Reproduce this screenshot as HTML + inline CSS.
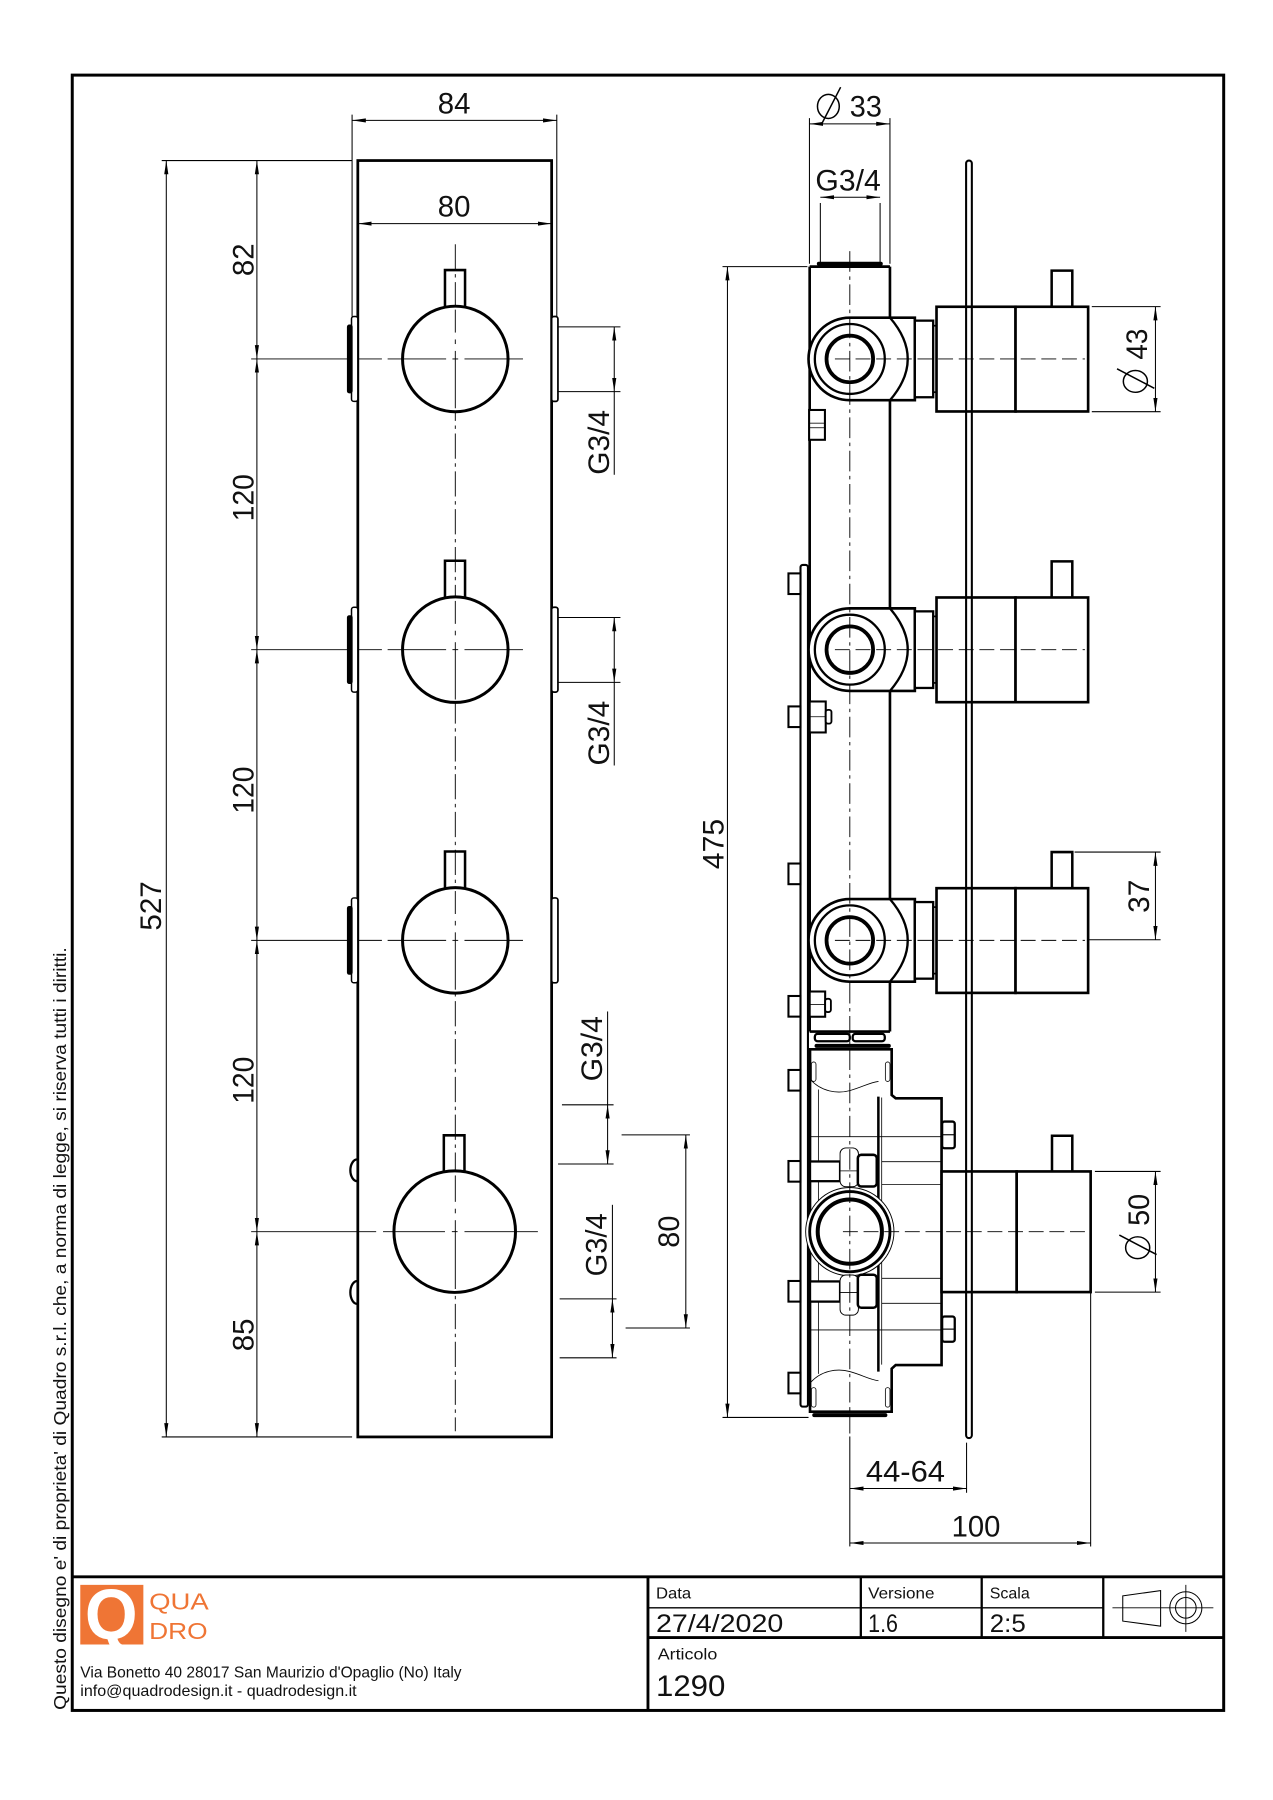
<!DOCTYPE html>
<html><head><meta charset="utf-8"><style>
html,body{margin:0;padding:0;background:#fff;}
svg{display:block;}
text{font-family:"Liberation Sans",Arial,sans-serif;fill:#111;}
</style></head><body>
<svg width="1273" height="1800" viewBox="0 0 1110 1569.6" preserveAspectRatio="none" xmlns="http://www.w3.org/2000/svg">
<defs>
<marker id="a" viewBox="0 0 12 4" refX="12" refY="2" markerWidth="12" markerHeight="4" orient="auto-start-reverse" markerUnits="userSpaceOnUse"><path d="M0,0.2 L12,2 L0,3.8z" fill="#000"/></marker>
</defs>
<rect width="1110" height="1569.6" fill="#fff"/>

<!-- frame & title block -->
<g stroke="#000" fill="none">
<rect x="63" y="65.5" width="1004" height="1426" stroke-width="2.6"/>
<line x1="63" y1="1375" x2="1067" y2="1375" stroke-width="2.5"/>
<line x1="565" y1="1375" x2="565" y2="1491" stroke-width="2.5"/>
<line x1="565" y1="1428" x2="1067" y2="1428" stroke-width="2.5"/>
<line x1="750.6" y1="1375" x2="750.6" y2="1428" stroke-width="2"/>
<line x1="856" y1="1375" x2="856" y2="1428" stroke-width="2"/>
<line x1="962" y1="1375" x2="962" y2="1428" stroke-width="2"/>
<line x1="565" y1="1402" x2="962" y2="1402" stroke-width="1.2"/>
<!-- projection symbol -->
<path d="M979,1391.6 L1012,1387 L1012,1418 L979,1413.6 Z" stroke-width="0.9"/>
<circle cx="1034" cy="1402" r="14" stroke-width="0.9"/>
<circle cx="1034" cy="1402" r="9" stroke-width="0.9"/>
<line x1="970" y1="1402" x2="1058" y2="1402" stroke-width="0.8"/>
<line x1="1034" y1="1382" x2="1034" y2="1423" stroke-width="0.8"/>
</g>
<text x="572" y="1394" font-size="14" textLength="30.7" lengthAdjust="spacingAndGlyphs">Data</text>
<text x="757" y="1394" font-size="14" textLength="57.8" lengthAdjust="spacingAndGlyphs">Versione</text>
<text x="863" y="1394" font-size="14" textLength="34.9" lengthAdjust="spacingAndGlyphs">Scala</text>
<text x="572" y="1423" font-size="21.5" textLength="111" lengthAdjust="spacingAndGlyphs">27/4/2020</text>
<text x="757" y="1423" font-size="21.5" textLength="26" lengthAdjust="spacingAndGlyphs">1.6</text>
<text x="863" y="1423" font-size="21.5" textLength="31.4" lengthAdjust="spacingAndGlyphs">2:5</text>
<text x="573.5" y="1447" font-size="14" textLength="52" lengthAdjust="spacingAndGlyphs">Articolo</text>
<text x="572" y="1479" font-size="26" textLength="60.5" lengthAdjust="spacingAndGlyphs">1290</text>

<!-- logo -->
<rect x="70" y="1382" width="55" height="52" fill="#EF7535"/>
<text x="97" y="1429" font-size="62" font-weight="bold" text-anchor="middle" textLength="46" lengthAdjust="spacingAndGlyphs" style="fill:#fff">Q</text>
<text x="130" y="1403.6" font-size="20" textLength="52" lengthAdjust="spacingAndGlyphs" style="fill:#EF7535">QUA</text>
<text x="130" y="1429" font-size="20" textLength="51" lengthAdjust="spacingAndGlyphs" style="fill:#EF7535">DRO</text>
<text x="70" y="1463" font-size="13.3" textLength="332.5" lengthAdjust="spacingAndGlyphs">Via Bonetto 40  28017 San Maurizio d'Opaglio (No) Italy</text>
<text x="70" y="1479" font-size="13.3" textLength="241" lengthAdjust="spacingAndGlyphs">info@quadrodesign.it  -  quadrodesign.it</text>

<!-- copyright vertical -->
<text transform="translate(57.5,1491) rotate(-90)" font-size="15.5" textLength="665" lengthAdjust="spacingAndGlyphs">Questo disegno e' di proprieta' di Quadro s.r.l. che, a norma di legge, si riserva tutti i diritti.</text>

<!-- ================= LEFT VIEW ================= -->
<g stroke="#000" fill="none">
<rect x="312" y="140" width="169" height="1113" stroke-width="2.4"/>
<line x1="397" y1="213" x2="397" y2="1248" stroke-width="0.8" stroke-dasharray="22 4 3 4"/>
<path d="M388,268 V235.5 H405.5 V268" stroke-width="2.2"/>
<circle cx="397" cy="313" r="46" stroke-width="2.6" fill="#fff"/>
<path d="M388,521.5 V489 H405.5 V521.5" stroke-width="2.2"/>
<circle cx="397" cy="566.5" r="46" stroke-width="2.6" fill="#fff"/>
<path d="M388,775 V742.5 H405.5 V775" stroke-width="2.2"/>
<circle cx="397" cy="820" r="46" stroke-width="2.6" fill="#fff"/>
<path d="M387,1022 V990 H405 V1022" stroke-width="2.2"/>
<circle cx="396.5" cy="1074" r="53" stroke-width="2.6" fill="#fff"/>
<g stroke-width="0.8">
<line x1="397" y1="270" x2="397" y2="290"/><line x1="397" y1="296" x2="397" y2="300"/><line x1="397" y1="306" x2="397" y2="356"/>
<line x1="397" y1="524" x2="397" y2="544"/><line x1="397" y1="550" x2="397" y2="554"/><line x1="397" y1="560" x2="397" y2="610"/>
<line x1="397" y1="777" x2="397" y2="797"/><line x1="397" y1="803" x2="397" y2="807"/><line x1="397" y1="813" x2="397" y2="863"/>
<line x1="397" y1="1025" x2="397" y2="1048"/><line x1="397" y1="1054" x2="397" y2="1058"/><line x1="397" y1="1064" x2="397" y2="1124"/>
<line x1="219" y1="313" x2="333" y2="313"/><line x1="338" y1="313" x2="389" y2="313"/><line x1="394.5" y1="313" x2="399.5" y2="313"/><line x1="405" y1="313" x2="456" y2="313"/>
<line x1="219" y1="566.5" x2="333" y2="566.5"/><line x1="338" y1="566.5" x2="389" y2="566.5"/><line x1="394.5" y1="566.5" x2="399.5" y2="566.5"/><line x1="405" y1="566.5" x2="456" y2="566.5"/>
<line x1="219" y1="820" x2="333" y2="820"/><line x1="338" y1="820" x2="389" y2="820"/><line x1="394.5" y1="820" x2="399.5" y2="820"/><line x1="405" y1="820" x2="456" y2="820"/>
<line x1="219" y1="1074" x2="328" y2="1074"/><line x1="334" y1="1074" x2="388" y2="1074"/><line x1="394" y1="1074" x2="399" y2="1074"/><line x1="405" y1="1074" x2="469" y2="1074"/>
</g>
<rect x="306.5" y="276" width="5.5" height="74" rx="2" stroke-width="1.3" fill="#fff"/>
<rect x="302.5" y="283" width="5" height="60" rx="2" fill="#000" stroke="none"/>
<rect x="306.5" y="529.5" width="5.5" height="74" rx="2" stroke-width="1.3" fill="#fff"/>
<rect x="302.5" y="536.5" width="5" height="60" rx="2" fill="#000" stroke="none"/>
<rect x="306.5" y="783" width="5.5" height="74" rx="2" stroke-width="1.3" fill="#fff"/>
<rect x="302.5" y="790" width="5" height="60" rx="2" fill="#000" stroke="none"/>
<path d="M311.5,1011 A6,9.5 0 0 0 311.5,1030" stroke-width="2"/>
<path d="M311.5,1117 A6,10 0 0 0 311.5,1137" stroke-width="2"/>
<rect x="481" y="276" width="5.5" height="74" rx="2" stroke-width="1.5" fill="#fff"/>
<rect x="481" y="529.5" width="5.5" height="74" rx="2" stroke-width="1.5" fill="#fff"/>
<rect x="481" y="783" width="5.5" height="74" rx="2" stroke-width="1.5" fill="#fff"/>
</g>

<!-- left dims -->
<g stroke="#000" fill="none" stroke-width="0.9">
<line x1="307" y1="100" x2="307" y2="276"/>
<line x1="485.5" y1="100" x2="485.5" y2="276"/>
<line x1="307" y1="105" x2="485.5" y2="105" marker-start="url(#a)" marker-end="url(#a)"/>
<line x1="312" y1="195" x2="481" y2="195" marker-start="url(#a)" marker-end="url(#a)"/>
<line x1="141" y1="140" x2="307" y2="140"/>
<line x1="141" y1="1253" x2="307" y2="1253"/>
<line x1="145" y1="140" x2="145" y2="1253" marker-start="url(#a)" marker-end="url(#a)"/>
<line x1="224" y1="140" x2="224" y2="313" marker-start="url(#a)" marker-end="url(#a)"/>
<line x1="224" y1="313" x2="224" y2="566.5" marker-start="url(#a)" marker-end="url(#a)"/>
<line x1="224" y1="566.5" x2="224" y2="820" marker-start="url(#a)" marker-end="url(#a)"/>
<line x1="224" y1="820" x2="224" y2="1074" marker-start="url(#a)" marker-end="url(#a)"/>
<line x1="224" y1="1074" x2="224" y2="1253" marker-start="url(#a)" marker-end="url(#a)"/>
<line x1="487" y1="285" x2="541" y2="285"/>
<line x1="487" y1="341.5" x2="541" y2="341.5"/>
<line x1="535.6" y1="285" x2="535.6" y2="341.5" marker-start="url(#a)" marker-end="url(#a)"/>
<line x1="535.6" y1="341.5" x2="535.6" y2="414"/>
<line x1="487" y1="538.5" x2="541" y2="538.5"/>
<line x1="487" y1="595" x2="541" y2="595"/>
<line x1="535.6" y1="538.5" x2="535.6" y2="595" marker-start="url(#a)" marker-end="url(#a)"/>
<line x1="535.6" y1="595" x2="535.6" y2="667.5"/>
<line x1="490" y1="963.4" x2="535" y2="963.4"/>
<line x1="486.6" y1="1015" x2="535" y2="1015"/>
<line x1="529.8" y1="963.4" x2="529.8" y2="1015" marker-start="url(#a)" marker-end="url(#a)"/>
<line x1="529.8" y1="882" x2="529.8" y2="963.4"/>
<line x1="488" y1="1132.6" x2="537.6" y2="1132.6"/>
<line x1="488" y1="1184" x2="537.6" y2="1184"/>
<line x1="534" y1="1132.6" x2="534" y2="1184" marker-start="url(#a)" marker-end="url(#a)"/>
<line x1="534" y1="1050.6" x2="534" y2="1132.6"/>
<line x1="542" y1="989.6" x2="601.6" y2="989.6"/>
<line x1="545.5" y1="1158" x2="601.6" y2="1158"/>
<line x1="598" y1="989.6" x2="598" y2="1158" marker-start="url(#a)" marker-end="url(#a)"/>
</g>
<g font-size="26">
<text x="396" y="99" text-anchor="middle" textLength="28.5" lengthAdjust="spacingAndGlyphs">84</text>
<text x="396" y="189" text-anchor="middle" textLength="28.5" lengthAdjust="spacingAndGlyphs">80</text>
<text transform="translate(140.5,790) rotate(-90)" text-anchor="middle" textLength="43" lengthAdjust="spacingAndGlyphs">527</text>
<text transform="translate(221,226.5) rotate(-90)" text-anchor="middle" textLength="28.5" lengthAdjust="spacingAndGlyphs">82</text>
<text transform="translate(221,434) rotate(-90)" text-anchor="middle" textLength="41" lengthAdjust="spacingAndGlyphs">120</text>
<text transform="translate(221,689) rotate(-90)" text-anchor="middle" textLength="41" lengthAdjust="spacingAndGlyphs">120</text>
<text transform="translate(221,942) rotate(-90)" text-anchor="middle" textLength="41" lengthAdjust="spacingAndGlyphs">120</text>
<text transform="translate(221,1164) rotate(-90)" text-anchor="middle" textLength="28.5" lengthAdjust="spacingAndGlyphs">85</text>
<text transform="translate(531,414) rotate(-90)" textLength="56.5" lengthAdjust="spacingAndGlyphs">G3/4</text>
<text transform="translate(531,667.5) rotate(-90)" textLength="56.5" lengthAdjust="spacingAndGlyphs">G3/4</text>
<text transform="translate(525,943) rotate(-90)" textLength="57" lengthAdjust="spacingAndGlyphs">G3/4</text>
<text transform="translate(529,1113) rotate(-90)" textLength="55" lengthAdjust="spacingAndGlyphs">G3/4</text>
<text transform="translate(592,1074) rotate(-90)" text-anchor="middle" textLength="28" lengthAdjust="spacingAndGlyphs">80</text>
</g>

<!-- ================= RIGHT VIEW ================= -->
<g stroke="#000" fill="none">
<rect x="698" y="492.6" width="6.5" height="734" rx="2" stroke-width="1.8" fill="#fff"/>
<g stroke-width="1.8" fill="#fff">
<rect x="687.5" y="500" width="10.5" height="18"/>
<rect x="687.5" y="616" width="10.5" height="18"/>
<rect x="687.5" y="753" width="10.5" height="18"/>
<rect x="687.5" y="868.5" width="10.5" height="18"/>
<rect x="687.5" y="933" width="10.5" height="18"/>
<rect x="687.5" y="1012.4" width="10.5" height="18"/>
<rect x="687.5" y="1117" width="10.5" height="18"/>
<rect x="687.5" y="1197" width="10.5" height="18"/>
</g>
<line x1="706" y1="232.5" x2="706" y2="899.5" stroke-width="2.3"/>
<line x1="776" y1="232.5" x2="776" y2="899.5" stroke-width="2.3"/>
<line x1="706" y1="232.5" x2="776" y2="232.5" stroke-width="2.3"/>
<line x1="714" y1="230" x2="768" y2="230" stroke-width="3.5" stroke-linecap="round"/>
<line x1="706" y1="899.5" x2="776" y2="899.5" stroke-width="2.3"/>
<rect x="710.5" y="901.5" width="30.5" height="6.5" rx="2.5" stroke-width="2"/>
<rect x="743.5" y="901.5" width="28" height="6.5" rx="2.5" stroke-width="2"/>
<line x1="712" y1="912" x2="775" y2="912" stroke-width="3.5" stroke-linecap="round"/>
<rect x="705.5" y="357.5" width="13.8" height="26" stroke-width="1.8" fill="#fff"/>
<line x1="706" y1="369" x2="719" y2="369" stroke-width="0.7"/>
<line x1="706" y1="373" x2="719" y2="373" stroke-width="0.7"/>
<rect x="706" y="611.7" width="14" height="27" stroke-width="1.8" fill="#fff"/>
<rect x="720" y="619" width="5" height="12" rx="2" stroke-width="1.6" fill="#fff"/>
<line x1="706" y1="625" x2="720" y2="625" stroke-width="0.7"/>
<rect x="706" y="864.6" width="13.5" height="22" stroke-width="1.8" fill="#fff"/>
<rect x="719.5" y="871" width="5" height="11.5" rx="2" stroke-width="1.6" fill="#fff"/>
<line x1="706" y1="876" x2="719.5" y2="876" stroke-width="0.7"/>

<g>
<path d="M797.7,277 H741 A36,36 0 0 0 741,349 H797.7 Z" fill="#fff" stroke-width="2.3"/>
<path d="M776,277 Q807,313 776,349" stroke-width="2"/>
<circle cx="741" cy="313" r="30.5" stroke-width="2"/>
<circle cx="741" cy="313" r="20.3" stroke-width="3.3"/>
<rect x="797.7" y="279.6" width="16" height="66.8" stroke-width="2" fill="#fff"/>
<rect x="813.7" y="284" width="3" height="58" stroke-width="1.5"/>
<rect x="816.6" y="267.5" width="68.9" height="91.3" stroke-width="2.3" fill="#fff"/>
<rect x="885.5" y="267.5" width="63.3" height="91.3" stroke-width="2.3" fill="#fff"/>
<path d="M917,267.5 V236 H935 V267.5" stroke-width="2.2"/>
</g>
<g>
<path d="M797.7,530.5 H741 A36,36 0 0 0 741,602.5 H797.7 Z" fill="#fff" stroke-width="2.3"/>
<path d="M776,530.5 Q807,566.5 776,602.5" stroke-width="2"/>
<circle cx="741" cy="566.5" r="30.5" stroke-width="2"/>
<circle cx="741" cy="566.5" r="20.3" stroke-width="3.3"/>
<rect x="797.7" y="533.1" width="16" height="66.8" stroke-width="2" fill="#fff"/>
<rect x="813.7" y="537.5" width="3" height="58" stroke-width="1.5"/>
<rect x="816.6" y="521" width="68.9" height="91.3" stroke-width="2.3" fill="#fff"/>
<rect x="885.5" y="521" width="63.3" height="91.3" stroke-width="2.3" fill="#fff"/>
<path d="M917,521 V489.5 H935 V521" stroke-width="2.2"/>
</g>
<g>
<path d="M797.7,784 H741 A36,36 0 0 0 741,856 H797.7 Z" fill="#fff" stroke-width="2.3"/>
<path d="M776,784 Q807,820 776,856" stroke-width="2"/>
<circle cx="741" cy="820" r="30.5" stroke-width="2"/>
<circle cx="741" cy="820" r="20.3" stroke-width="3.3"/>
<rect x="797.7" y="786.6" width="16" height="66.8" stroke-width="2" fill="#fff"/>
<rect x="813.7" y="791" width="3" height="58" stroke-width="1.5"/>
<rect x="816.6" y="774.5" width="68.9" height="91.3" stroke-width="2.3" fill="#fff"/>
<rect x="885.5" y="774.5" width="63.3" height="91.3" stroke-width="2.3" fill="#fff"/>
<path d="M917,774.5 V743 H935 V774.5" stroke-width="2.2"/>
</g>

<path d="M706.3,915 H777.5 V954.8 L781,957.7 H821 V1190.3 H781 L777.5,1193.5 V1231 H706.3 Z" fill="#fff" stroke-width="2.3"/>
<line x1="710" y1="1234" x2="772" y2="1234" stroke-width="3.5" stroke-linecap="round"/>
<line x1="765.9" y1="956.3" x2="765.9" y2="1196.1" stroke-width="2.2"/>
<g stroke-width="0.7">
<line x1="768.8" y1="957" x2="768.8" y2="1190"/>
<line x1="713.6" y1="950" x2="713.6" y2="1198"/>
<line x1="706.3" y1="991.2" x2="821" y2="991.2"/>
<line x1="706.3" y1="1159.7" x2="821" y2="1159.7"/>
<line x1="768.8" y1="1013" x2="821" y2="1013"/>
<line x1="768.8" y1="1033" x2="821" y2="1033"/>
<line x1="768.8" y1="1114.7" x2="821" y2="1114.7"/>
<line x1="768.8" y1="1136.5" x2="821" y2="1136.5"/>
<path d="M706.3,941 C716,952 730,954 741,951 S758,944 766,943"/>
<path d="M706.3,1206 C716,1195 730,1193 741,1196 S758,1203 766,1204"/>
<rect x="707.5" y="926" width="4" height="17" rx="2"/>
<rect x="772" y="926" width="4" height="17" rx="2"/>
<rect x="707.5" y="1210" width="4" height="17" rx="2"/>
<rect x="772" y="1210" width="4" height="17" rx="2"/>
</g>
<rect x="821.5" y="978" width="11" height="23.3" rx="2" stroke-width="2" fill="#fff"/>
<line x1="821.5" y1="989.5" x2="832.5" y2="989.5" stroke-width="1"/>
<rect x="821.5" y="1148" width="11" height="22" rx="2" stroke-width="2" fill="#fff"/>
<line x1="821.5" y1="1159" x2="832.5" y2="1159" stroke-width="1"/>
<circle cx="741" cy="1074" r="38.5" stroke-width="0.8" fill="#fff"/>
<circle cx="741" cy="1074" r="35" stroke-width="2.5"/>
<circle cx="741" cy="1074" r="28" stroke-width="3.5"/>
<rect x="706.3" y="1012.8" width="26.2" height="17.2" stroke-width="2" fill="#fff"/>
<rect x="732.5" y="1001" width="16" height="33.8" rx="5" stroke-width="0.8" fill="#fff"/>
<line x1="732.5" y1="1021" x2="748.5" y2="1021" stroke-width="0.7"/>
<rect x="748" y="1007" width="16.5" height="27.6" rx="3" stroke-width="2.2" fill="#fff"/>
<rect x="706.3" y="1117.4" width="26.2" height="17.6" stroke-width="2" fill="#fff"/>
<rect x="732.5" y="1111.8" width="16" height="35" rx="5" stroke-width="0.8" fill="#fff"/>
<line x1="732.5" y1="1127" x2="748.5" y2="1127" stroke-width="0.7"/>
<rect x="748" y="1111.6" width="16.5" height="28.8" rx="3" stroke-width="2.2" fill="#fff"/>
<rect x="821" y="1021.5" width="65.5" height="105.2" stroke-width="2.3" fill="#fff"/>
<rect x="886.5" y="1021.5" width="64.5" height="105.2" stroke-width="2.3" fill="#fff"/>
<path d="M917.3,1021.5 V990.4 H935 V1021.5" stroke-width="2.2"/>

<g stroke-width="0.8">
<line x1="741" y1="219" x2="741" y2="1250" stroke-dasharray="18 4 3 4"/>
<line x1="728" y1="313" x2="946" y2="313" stroke-dasharray="13 5"/>
<line x1="728" y1="566.5" x2="946" y2="566.5" stroke-dasharray="13 5"/>
<line x1="728" y1="820" x2="946" y2="820" stroke-dasharray="13 5"/>
<line x1="735" y1="1074" x2="950" y2="1074" stroke-dasharray="13 5"/>
</g>
<rect x="842.4" y="140" width="5" height="1114" rx="2.5" stroke-width="1.8"/>
</g>

<!-- right dims -->
<g stroke="#000" fill="none" stroke-width="0.9">
<line x1="705.8" y1="103" x2="705.8" y2="230"/>
<line x1="776" y1="103" x2="776" y2="230"/>
<line x1="705.8" y1="108" x2="776" y2="108" marker-start="url(#a)" marker-end="url(#a)"/>
<ellipse cx="722.3" cy="92.8" rx="9.5" ry="10.5" stroke-width="1.3"/>
<line x1="716" y1="109" x2="733" y2="76" stroke-width="1.3"/>
<line x1="715.3" y1="177" x2="715.3" y2="229"/>
<line x1="767.4" y1="177" x2="767.4" y2="229"/>
<line x1="715.3" y1="172" x2="767.4" y2="172" marker-start="url(#a)" marker-end="url(#a)"/>
<line x1="630" y1="232.5" x2="704" y2="232.5"/>
<line x1="630" y1="1236" x2="705" y2="1236"/>
<line x1="634.3" y1="232.5" x2="634.3" y2="1236" marker-start="url(#a)" marker-end="url(#a)"/>
<line x1="952" y1="267.4" x2="1012" y2="267.4"/>
<line x1="952" y1="359" x2="1012" y2="359"/>
<line x1="1007.5" y1="267.4" x2="1007.5" y2="359" marker-start="url(#a)" marker-end="url(#a)"/>
<line x1="937" y1="743" x2="1012" y2="743"/>
<line x1="949" y1="819.5" x2="1012" y2="819.5"/>
<line x1="1007.5" y1="743" x2="1007.5" y2="819.5" marker-start="url(#a)" marker-end="url(#a)"/>
<line x1="954.7" y1="1021.5" x2="1012" y2="1021.5"/>
<line x1="954.7" y1="1126.7" x2="1012" y2="1126.7"/>
<line x1="1007.5" y1="1021.5" x2="1007.5" y2="1126.7" marker-start="url(#a)" marker-end="url(#a)"/>
<line x1="741" y1="1252.6" x2="741" y2="1348.5"/>
<line x1="842.8" y1="1258" x2="842.8" y2="1301.7"/>
<line x1="741" y1="1298" x2="842.8" y2="1298" marker-start="url(#a)" marker-end="url(#a)"/>
<line x1="951" y1="1127" x2="951" y2="1348.5"/>
<line x1="741" y1="1345.5" x2="951" y2="1345.5" marker-start="url(#a)" marker-end="url(#a)"/>
<g transform="translate(1000,342.6) rotate(-90)" stroke-width="1.3">
<ellipse cx="10" cy="-10" rx="9.5" ry="10.5"/>
<line x1="4" y1="6.5" x2="21" y2="-26"/>
</g>
<g transform="translate(1002,1098) rotate(-90)" stroke-width="1.3">
<ellipse cx="10" cy="-10" rx="9.5" ry="10.5"/>
<line x1="4" y1="6.5" x2="21" y2="-26"/>
</g>
</g>
<g font-size="26">
<text x="741" y="101.7" textLength="28" lengthAdjust="spacingAndGlyphs">33</text>
<text x="739.5" y="166" text-anchor="middle" textLength="57" lengthAdjust="spacingAndGlyphs">G3/4</text>
<text transform="translate(631,736) rotate(-90)" text-anchor="middle" textLength="44" lengthAdjust="spacingAndGlyphs">475</text>
<text transform="translate(1000,342.6) rotate(-90)" x="29" textLength="27" lengthAdjust="spacingAndGlyphs">43</text>
<text transform="translate(1002,781.5) rotate(-90)" text-anchor="middle" textLength="29" lengthAdjust="spacingAndGlyphs">37</text>
<text transform="translate(1002,1098) rotate(-90)" x="29" textLength="28" lengthAdjust="spacingAndGlyphs">50</text>
<text x="789.5" y="1291.8" text-anchor="middle" textLength="69" lengthAdjust="spacingAndGlyphs">44-64</text>
<text x="851" y="1339.8" text-anchor="middle" textLength="42.5" lengthAdjust="spacingAndGlyphs">100</text>
</g>
</svg>
</body></html>
